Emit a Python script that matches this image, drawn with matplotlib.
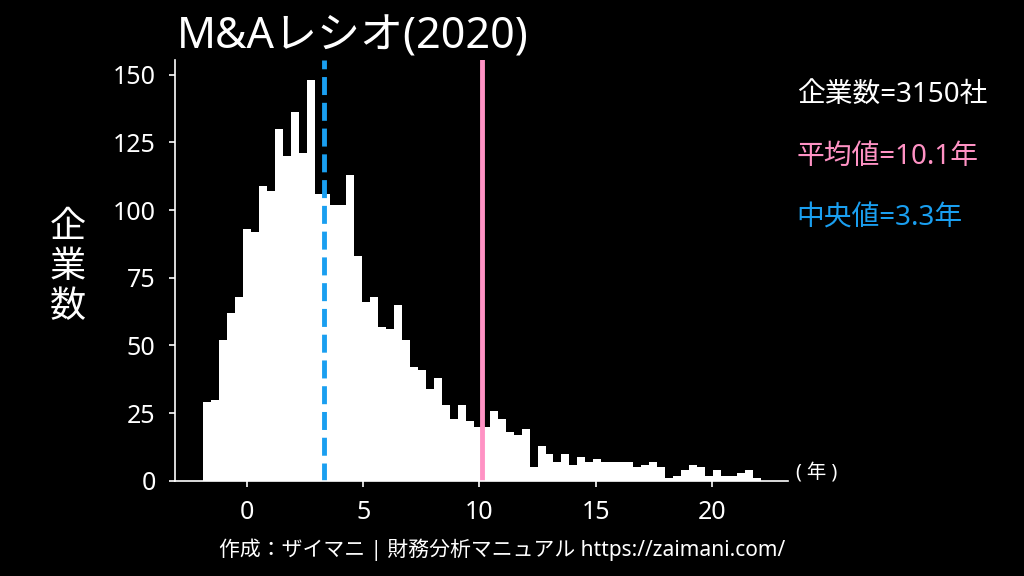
import numpy as np
import matplotlib
matplotlib.use('Agg')
import matplotlib.pyplot as plt

plt.rcParams['font.family'] = ['Noto Sans', 'Noto Sans CJK JP', 'DejaVu Sans']

# histogram of M&A ratio (years), 70 bins
bin_start = -1.9
bin_end = 22.1
counts = [29, 30, 52, 62, 68, 93, 92, 109, 107, 130,
          120, 136, 121, 148, 106, 106, 102, 102, 113, 83,
          66, 68, 57, 56, 65, 52, 42, 41, 34, 38,
          28, 23, 28, 22, 20, 20, 26, 23, 18, 17,
          19, 5, 13, 10, 7, 10, 6, 9, 7, 8,
          7, 7, 7, 7, 5, 6, 7, 5, 1, 2,
          4, 6, 5, 2, 4, 2, 2, 3, 4, 1]
n_companies = 3150
mean_val = 10.1
median_val = 3.3

title = 'M&Aレシオ(2020)'
pink = '#ff92c4'
blue = '#1a9ff0'

edges = np.linspace(bin_start, bin_end, len(counts) + 1)

fig = plt.figure(figsize=(10.24, 5.76), dpi=100, facecolor='black')
ax = fig.add_axes([0.171, 0.165, 0.599, 0.731], facecolor='black')

ax.stairs(counts, edges, fill=True, color='white', linewidth=0)
ax.axvline(mean_val, color=pink, linewidth=3.5)
ax.axvline(median_val, color=blue, linewidth=3.5, linestyle='--')

ax.set_xticks([0, 5, 10, 15, 20])
ax.set_yticks([0, 25, 50, 75, 100, 125, 150])
for s in ['top', 'right']:
    ax.spines[s].set_visible(False)
for s in ['left', 'bottom']:
    ax.spines[s].set_color('white')
    ax.spines[s].set_linewidth(1.2)
ax.tick_params(colors='white', labelsize=18, length=4, width=1.2, pad=10)

ax.set_title(title, loc='left', fontsize=31, color='white', pad=6, x=0.003)

ax.text(1.012, 0.02, '( 年 )', transform=ax.transAxes, color='white',
        fontsize=14, va='center', ha='left')

fig.text(0.066, 0.535, '企\n業\n数', color='white', fontsize=26,
         ha='center', va='center', linespacing=1.15)

fig.text(0.778, 0.835, '企業数=%d社' % n_companies, color='white', fontsize=20,
         va='center')
fig.text(0.778, 0.727, '平均値=%.1f年' % mean_val, color=pink, fontsize=20,
         va='center')
fig.text(0.778, 0.621, '中央値=%.1f年' % median_val, color=blue, fontsize=20,
         va='center')

fig.text(0.49, 0.045, '作成：ザイマニ | 財務分析マニュアル https://zaimani.com/',
         color='white', fontsize=15, ha='center', va='center')

plt.savefig('out.png', dpi=100, facecolor='black')
